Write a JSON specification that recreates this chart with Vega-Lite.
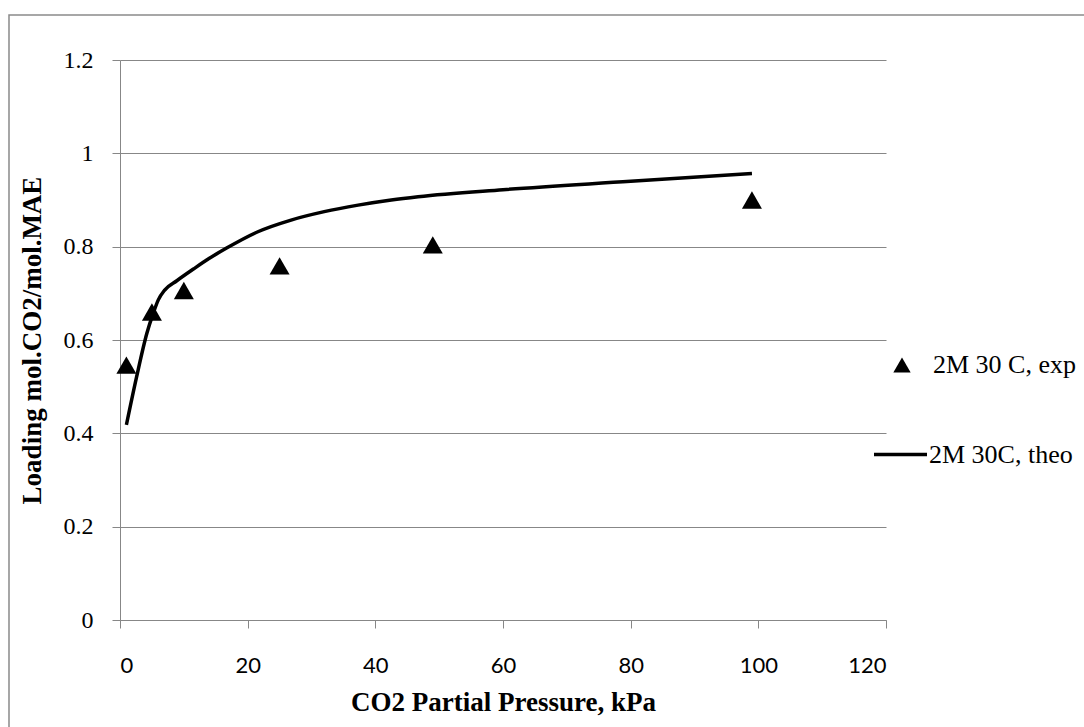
{
  "$schema": "https://vega.github.io/schema/vega-lite/v6.json",
  "width": 766,
  "height": 560,
  "autosize": "none",
  "padding": {"left": 120, "top": 60, "right": 198, "bottom": 107},
  "background": "white",
  "config": {
    "view": {"stroke": null},
    "axis": {
      "gridColor": "#878787",
      "domainColor": "#878787",
      "tickColor": "#878787",
      "gridWidth": 1,
      "domainWidth": 1,
      "tickWidth": 1,
      "tickSize": 8,
      "labelColor": "black",
      "titleColor": "black",
      "titleFont": "Liberation Serif",
      "titleFontWeight": "bold",
      "titleFontSize": 27
    },
    "legend": {
      "orient": "none",
      "title": null,
      "labelFont": "Liberation Serif",
      "labelFontSize": 26,
      "labelColor": "black",
      "padding": 0
    }
  },
  "datasets": {
    "exp": [
      {"p": 1, "loading": 0.546, "series": "2M 30 C, exp"},
      {"p": 5, "loading": 0.66, "series": "2M 30 C, exp"},
      {"p": 10, "loading": 0.706, "series": "2M 30 C, exp"},
      {"p": 25, "loading": 0.759, "series": "2M 30 C, exp"},
      {"p": 49, "loading": 0.804, "series": "2M 30 C, exp"},
      {"p": 99, "loading": 0.9, "series": "2M 30 C, exp"}
    ],
    "theo": [
      {"p": 1, "loading": 0.418, "series": "2M 30C, theo"},
      {"p": 2.6, "loading": 0.521, "series": "2M 30C, theo"},
      {"p": 4.2, "loading": 0.614, "series": "2M 30C, theo"},
      {"p": 5.2, "loading": 0.657, "series": "2M 30C, theo"},
      {"p": 6, "loading": 0.686, "series": "2M 30C, theo"},
      {"p": 7, "loading": 0.707, "series": "2M 30C, theo"},
      {"p": 8.9, "loading": 0.727, "series": "2M 30C, theo"},
      {"p": 11.5, "loading": 0.752, "series": "2M 30C, theo"},
      {"p": 14, "loading": 0.775, "series": "2M 30C, theo"},
      {"p": 16.7, "loading": 0.797, "series": "2M 30C, theo"},
      {"p": 21.6, "loading": 0.832, "series": "2M 30C, theo"},
      {"p": 26.8, "loading": 0.857, "series": "2M 30C, theo"},
      {"p": 32, "loading": 0.875, "series": "2M 30C, theo"},
      {"p": 37.3, "loading": 0.889, "series": "2M 30C, theo"},
      {"p": 42.5, "loading": 0.9, "series": "2M 30C, theo"},
      {"p": 46.7, "loading": 0.907, "series": "2M 30C, theo"},
      {"p": 60, "loading": 0.922, "series": "2M 30C, theo"},
      {"p": 80, "loading": 0.94, "series": "2M 30C, theo"},
      {"p": 99, "loading": 0.957, "series": "2M 30C, theo"}
    ]
  },
  "layer": [
    {
      "data": {"values": [{}]},
      "mark": {"type": "rect", "fill": null, "stroke": "#8a8a8a", "strokeWidth": 1.5, "clip": false},
      "encoding": {
        "x": {"datum": -17.39, "type": "quantitative", "title": "CO2 Partial Pressure, kPa"},
        "x2": {"datum": 200},
        "y": {"datum": 1.2964, "type": "quantitative", "title": "Loading mol.CO2/mol.MAE"},
        "y2": {"datum": -0.4}
      }
    },
    {
      "data": {"name": "theo"},
      "mark": {"type": "line", "strokeWidth": 3.5, "interpolate": "monotone"},
      "encoding": {
        "x": {
          "field": "p", "type": "quantitative",
          "title": "CO2 Partial Pressure, kPa",
          "scale": {"domain": [0, 120], "nice": false},
          "axis": {
            "values": [0, 20, 40, 60, 80, 100, 120],
            "grid": false,
            "labelFont": "Lato",
            "labelFontSize": 22,
            "labelBaseline": "alphabetic",
            "labelPadding": 44,
            "titleY": 90,
            "titleBaseline": "alphabetic"
          }
        },
        "y": {
          "field": "loading", "type": "quantitative",
          "title": "Loading mol.CO2/mol.MAE",
          "scale": {"domain": [0, 1.2], "nice": false},
          "axis": {
            "values": [0, 0.2, 0.4, 0.6, 0.8, 1, 1.2],
            "format": "~g",
            "grid": true,
            "labelFont": "Liberation Serif",
            "labelFontSize": 24,
            "labelPadding": 19,
            "titleX": -88,
            "titleY": 280,
            "titleBaseline": "middle"
          }
        },
        "color": {
          "field": "series", "type": "nominal",
          "scale": {"domain": ["2M 30C, theo"], "range": ["black"]},
          "legend": {
            "legendX": 752,
            "legendY": 366,
            "symbolType": "stroke",
            "symbolSize": 2809,
            "symbolStrokeWidth": 3.5,
            "symbolStrokeColor": "black",
            "labelOffset": 0
          }
        }
      }
    },
    {
      "data": {"name": "exp"},
      "mark": {"type": "point", "filled": true, "color": "black", "size": 400, "opacity": 1},
      "encoding": {
        "x": {"field": "p", "type": "quantitative", "title": "CO2 Partial Pressure, kPa"},
        "y": {"field": "loading", "type": "quantitative", "title": "Loading mol.CO2/mol.MAE"},
        "shape": {
          "field": "series", "type": "nominal",
          "scale": {"domain": ["2M 30 C, exp"], "range": ["triangle-up"]},
          "legend": {
            "legendX": 769,
            "legendY": 292,
            "labelOffset": 18,
            "symbolSize": 300,
            "symbolFillColor": "black",
            "symbolStrokeWidth": 0,
            "symbolOpacity": 1
          }
        }
      }
    }
  ]
}
